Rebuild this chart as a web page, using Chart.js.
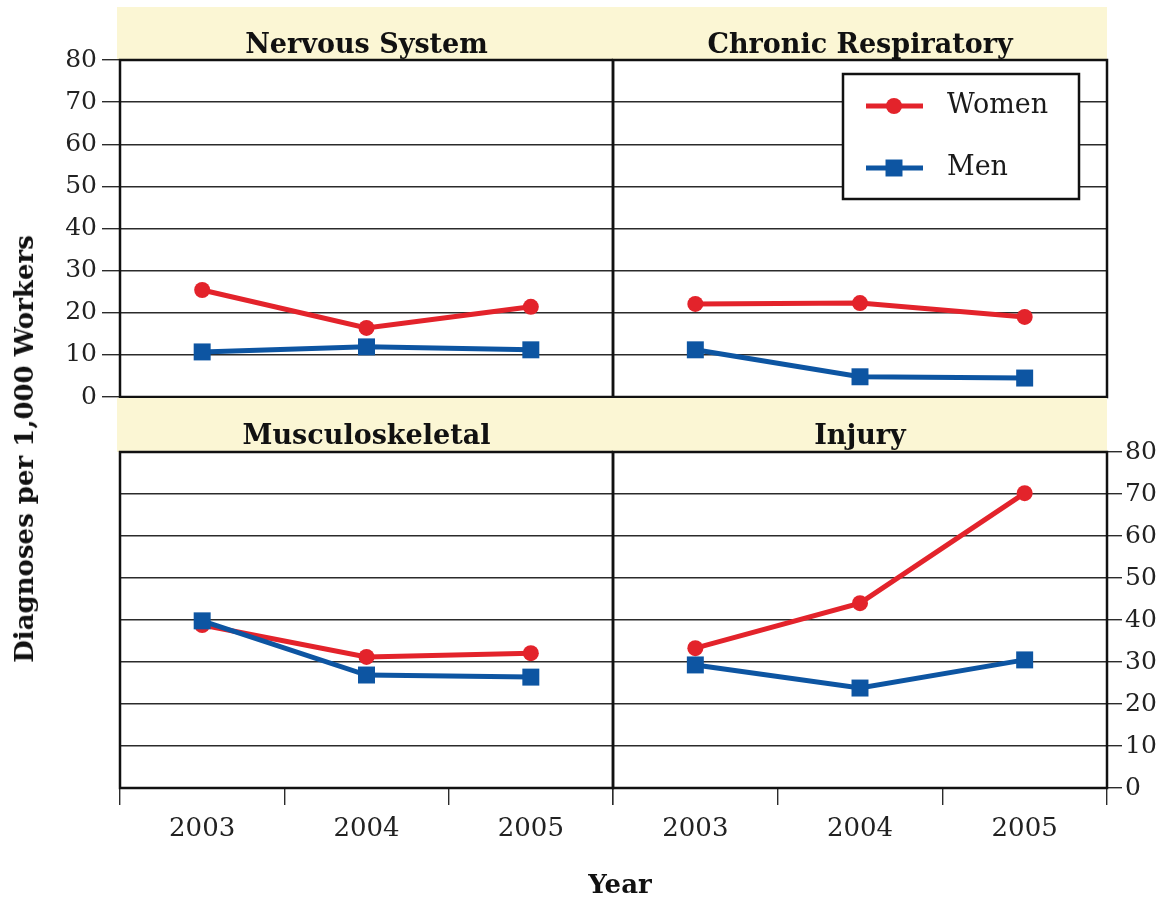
<!DOCTYPE html>
<html>
<head>
<meta charset="utf-8">
<title>Diagnoses per 1,000 Workers</title>
<script src="https://cdn.jsdelivr.net/npm/chart.js@4.4.1/dist/chart.umd.min.js"></script>
<style>
  body { margin: 0; background: #fff; }
  #wrap { position: relative; width: 1170px; height: 901px; }
  #wrap canvas { position: absolute; left: 0; top: 0; }
  .ytitle {
    position: absolute; left: 24px; top: 449px;
    transform: translate(-50%, -50%) rotate(-90deg);
    font: bold 26px "DejaVu Serif", serif; color: #111; white-space: nowrap;
  }
  .xtitle {
    position: absolute; left: 620px; top: 884px;
    transform: translate(-50%, -50%);
    font: bold 26px "DejaVu Serif", serif; color: #111;
  }
</style>
</head>
<body>
<div id="wrap">
  <canvas id="nervous" width="1170" height="901"></canvas>
  <canvas id="resp" width="1170" height="901"></canvas>
  <canvas id="musc" width="1170" height="901"></canvas>
  <canvas id="injury" width="1170" height="901"></canvas>
  <div class="ytitle">Diagnoses per 1,000 Workers</div>
  <div class="xtitle">Year</div>
</div>
<script>
// data
const years = ['2003', '2004', '2005'];
const seriesNames = ['Women', 'Men'];
const panelTitles = ['Nervous System', 'Chronic Respiratory', 'Musculoskeletal', 'Injury'];
const yMin = 0, yMax = 80, yStep = 10;

const nervousWomen = [25.4, 16.4, 21.4];
const nervousMen   = [10.7, 11.9, 11.2];
const respWomen    = [22.1, 22.3, 19.0];
const respMen      = [11.2, 4.8, 4.5];
const muscWomen    = [38.8, 31.2, 32.1];
const muscMen      = [39.8, 26.9, 26.4];
const injuryWomen  = [33.3, 44.0, 70.2];
const injuryMen    = [29.3, 23.8, 30.5];

const RED = '#e3232b';
const BLUE = '#0d55a2';
const BAND = '#fbf6d4';
const GRID = '#2b2b2b';
const SERIF = '"DejaVu Serif", serif';

// yellow strip behind the panel title
const bandPlugin = {
  id: 'band',
  beforeDraw(chart, args, opts) {
    const { ctx, chartArea } = chart;
    ctx.save();
    ctx.fillStyle = BAND;
    ctx.fillRect(chartArea.left - (opts.extendLeft || 0), opts.top,
      chartArea.right - chartArea.left + (opts.extendLeft || 0), chartArea.top - opts.top);
    ctx.restore();
  }
};

// black box round the plot
const framePlugin = {
  id: 'frame',
  beforeDatasetsDraw(chart) {
    const { ctx, chartArea } = chart;
    ctx.save();
    ctx.strokeStyle = '#111';
    ctx.lineWidth = 2.5;
    ctx.strokeRect(chartArea.left, chartArea.top, chartArea.right - chartArea.left, chartArea.bottom - chartArea.top);
    ctx.restore();
  }
};

// legend box inside the Chronic Respiratory panel
const boxLegend = {
  id: 'boxLegend',
  afterDraw(chart) {
    const { ctx, chartArea } = chart;
    const left = chartArea.left + 230, top = chartArea.top + 14;
    const w = 236, h = 125;
    ctx.save();
    ctx.fillStyle = '#fff';
    ctx.fillRect(left, top, w, h);
    ctx.strokeStyle = '#111';
    ctx.lineWidth = 2.5;
    ctx.strokeRect(left, top, w, h);
    const rows = [1, 0]; // Women first, then Men
    rows.forEach((di, i) => {
      const ds = chart.data.datasets[di];
      const y = top + 32 + i * 62;
      ctx.strokeStyle = ds.borderColor;
      ctx.lineWidth = 5;
      ctx.beginPath();
      ctx.moveTo(left + 23, y);
      ctx.lineTo(left + 80, y);
      ctx.stroke();
      ctx.fillStyle = ds.backgroundColor;
      ctx.strokeStyle = ds.borderColor;
      Chart.helpers.drawPoint(ctx, { pointStyle: ds.pointStyle, radius: ds.pointRadius, rotation: 0, borderWidth: 0 }, left + 51, y);
      ctx.fillStyle = '#1a1a1a';
      ctx.font = '27px ' + SERIF;
      ctx.textBaseline = 'middle';
      ctx.textAlign = 'left';
      ctx.fillText(ds.label, left + 104, y);
    });
    ctx.restore();
  }
};

function makeDatasets(women, men) {
  return [
    {
      label: seriesNames[1], data: men, order: 0,
      borderColor: BLUE, backgroundColor: BLUE, borderWidth: 5,
      pointStyle: 'rect', pointRadius: 12, pointBorderWidth: 0, tension: 0
    },
    {
      label: seriesNames[0], data: women, order: 1,
      borderColor: RED, backgroundColor: RED, borderWidth: 5,
      pointStyle: 'circle', pointRadius: 8, pointBorderWidth: 0, tension: 0
    }
  ];
}

// ySide: 'left' (labels on left), 'right' (labels on right), 'none'
function makePanel(id, title, women, men, cfg) {
  const yAxis = {
    min: yMin, max: yMax,
    position: cfg.ySide === 'right' ? 'right' : 'left',
    ticks: {
      display: cfg.ySide !== 'none',
      stepSize: yStep, padding: cfg.ySide === 'right' ? 3 : 5,
      color: '#222', font: { family: SERIF, size: 25 }
    },
    grid: { color: GRID, lineWidth: 1.4, drawTicks: cfg.ySide !== 'none', tickLength: cfg.ySide === 'right' ? 15 : 18 },
    border: { display: false },
    afterFit: (s) => { s.width = cfg.yWidth; }
  };
  const xAxis = {
    offset: true,
    display: cfg.showX,
    ticks: { color: '#222', font: { family: SERIF, size: 26 }, padding: 9, maxRotation: 0 },
    grid: { offset: true, drawOnChartArea: false, drawTicks: true, tickLength: 17, color: GRID, lineWidth: 1.4 },
    border: { display: false },
    afterFit: (s) => { s.height = cfg.showX ? 60 : 0; }
  };
  return new Chart(document.getElementById(id), {
    type: 'line',
    data: { labels: years, datasets: makeDatasets(women, men) },
    options: {
      responsive: false,
      animation: false,
      layout: { padding: cfg.padding },
      scales: { x: xAxis, y: yAxis },
      plugins: {
        legend: { display: false },
        tooltip: { enabled: false },
        title: {
          display: true, text: title, fullSize: false,
          color: '#111', font: { family: SERIF, size: 27, weight: 'bold', lineHeight: 1 },
          padding: { top: 25.5, bottom: cfg.titleBottom }
        },
        band: { top: cfg.padding.top, extendLeft: cfg.bandExtend }
      }
    },
    plugins: cfg.legend ? [bandPlugin, framePlugin, boxLegend] : [bandPlugin, framePlugin]
  });
}

makePanel('nervous', panelTitles[0], nervousWomen, nervousMen, {
  ySide: 'left', yWidth: 120, showX: false, bandExtend: 3, titleBottom: 0.5,
  padding: { left: 0, top: 7, right: 557, bottom: 504 }
});
makePanel('resp', panelTitles[1], respWomen, respMen, {
  ySide: 'none', yWidth: 0, showX: false, bandExtend: 0, titleBottom: 0.5, legend: true,
  padding: { left: 613, top: 7, right: 63, bottom: 504 }
});
makePanel('musc', panelTitles[2], muscWomen, muscMen, {
  ySide: 'none', yWidth: 120, showX: true, bandExtend: 3, titleBottom: 1.5,
  padding: { left: 0, top: 398, right: 557, bottom: 53 }
});
makePanel('injury', panelTitles[3], injuryWomen, injuryMen, {
  ySide: 'right', yWidth: 63, showX: true, bandExtend: 0, titleBottom: 1.5,
  padding: { left: 613, top: 398, right: 0, bottom: 53 }
});
</script>
</body>
</html>
